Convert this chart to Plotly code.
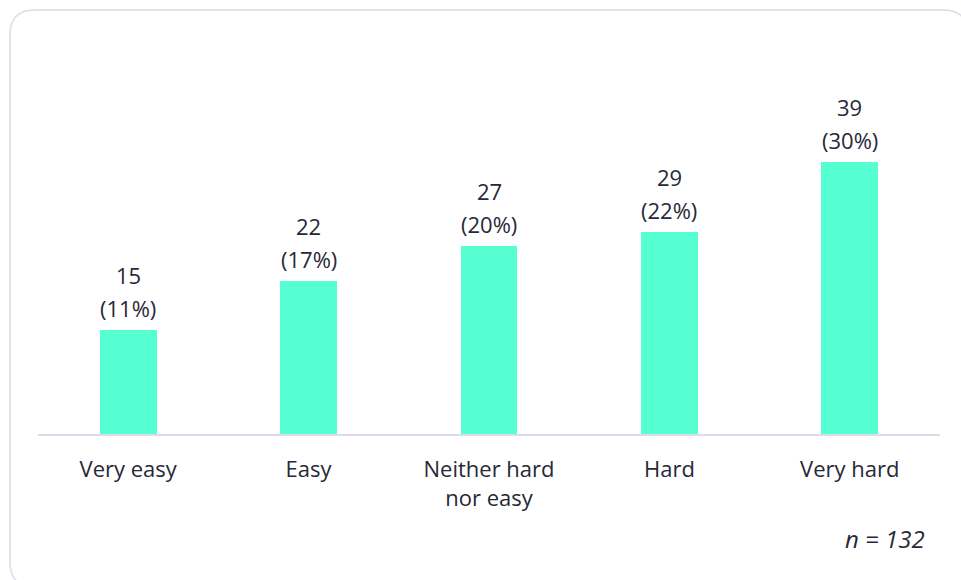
import plotly.graph_objects as go

# Survey responses
categories = ["Very easy", "Easy", "Neither hard<br>nor easy", "Hard", "Very hard"]
counts = [15, 22, 27, 29, 39]
percents = [11, 17, 20, 22, 30]
sample_size = 132

BAR_COLOR = "#56FFD1"
TEXT_COLOR = "#272838"
LINE_COLOR = "#DCDCEB"
FONT = "'Open Sans', Lato, sans-serif"
FS = 22

W, H = 961, 580
L, R, T, B = 38, 21, 20, 145
plot_w = W - L - R
plot_h = H - T - B
px_per_unit = 7.0
y_max = plot_h / px_per_unit

fig = go.Figure(
    go.Bar(
        x=categories,
        y=counts,
        marker=dict(color=BAR_COLOR, line=dict(width=0)),
        width=0.315,
        hoverinfo="skip",
    )
)

# Count and share labels above each bar
annotations = []
for cat, c, p in zip(categories, counts, percents):
    annotations.append(dict(x=cat, y=c, xref="x", yref="y", text=str(c),
                            showarrow=False, yanchor="middle", yshift=55,
                            font=dict(size=FS, color=TEXT_COLOR, family=FONT)))
    annotations.append(dict(x=cat, y=c, xref="x", yref="y", text=f"({p}%)",
                            showarrow=False, yanchor="middle", yshift=22,
                            font=dict(size=FS, color=TEXT_COLOR, family=FONT)))

annotations.append(dict(x=(927 - L) / plot_w, y=(H - B - 538) / plot_h,
                        xref="paper", yref="paper", text=f"<i>n = {sample_size}</i>",
                        showarrow=False, xanchor="right", yanchor="middle",
                        font=dict(size=FS + 2, color=TEXT_COLOR, family=FONT)))


def px_x(v):
    return (v - L) / plot_w


def px_y(v):
    return (H - B - v) / plot_h


# Rounded card outline around the chart
x0, y0, x1, y1, r = 10, 10, 968, 587, 25
path = (
    f"M {px_x(x0 + r)} {px_y(y0)} L {px_x(x1 - r)} {px_y(y0)} "
    f"Q {px_x(x1)} {px_y(y0)} {px_x(x1)} {px_y(y0 + r)} "
    f"L {px_x(x1)} {px_y(y1 - r)} "
    f"Q {px_x(x1)} {px_y(y1)} {px_x(x1 - r)} {px_y(y1)} "
    f"L {px_x(x0 + r)} {px_y(y1)} "
    f"Q {px_x(x0)} {px_y(y1)} {px_x(x0)} {px_y(y1 - r)} "
    f"L {px_x(x0)} {px_y(y0 + r)} "
    f"Q {px_x(x0)} {px_y(y0)} {px_x(x0 + r)} {px_y(y0)} Z"
)

shapes = [
    dict(type="path", xref="paper", yref="paper", path=path,
         line=dict(color=LINE_COLOR, width=1.5), layer="below"),
    dict(type="line", xref="paper", yref="paper", x0=0, x1=1, y0=0, y1=0,
         line=dict(color=LINE_COLOR, width=2), layer="above"),
]

fig.update_layout(
    width=W, height=H,
    margin=dict(l=L, r=R, t=T, b=B, pad=0),
    paper_bgcolor="white", plot_bgcolor="white",
    showlegend=False,
    font=dict(family=FONT, color=TEXT_COLOR, size=FS),
    xaxis=dict(showgrid=False, zeroline=False, showline=False, ticks="",
               tickfont=dict(size=FS, color=TEXT_COLOR, family=FONT),
               ticklabelstandoff=19),
    yaxis=dict(range=[0, y_max], visible=False, showgrid=False, zeroline=False),
    annotations=annotations,
    shapes=shapes,
    bargap=0,
)

fig.write_html("out.html")
